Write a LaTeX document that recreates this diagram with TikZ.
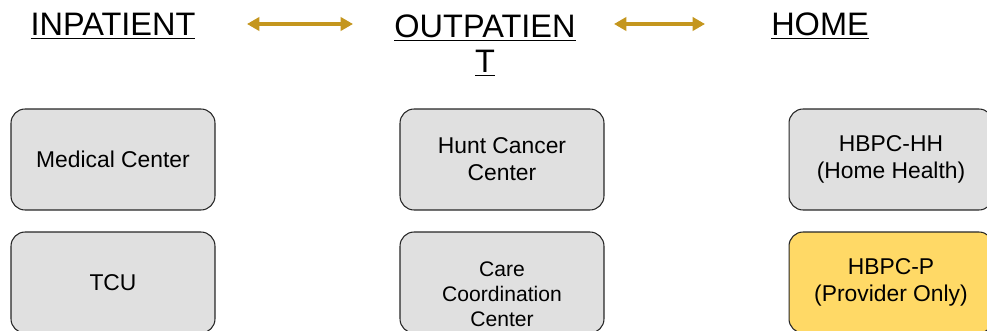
\documentclass[tikz,border=0pt]{standalone}
\usepackage{fontspec}
\setmainfont{Liberation Sans}
\usetikzlibrary{arrows.meta}
\definecolor{boxgray}{RGB}{224,224,224}
\definecolor{boxyellow}{RGB}{255,217,102}
\definecolor{gold}{RGB}{196,150,30}
\begin{document}
\begin{tikzpicture}[x=0.02cm,y=-0.02cm,
    place/.style={draw=black!85,line width=0.6pt,rounded corners=8pt,fill=boxgray,
      minimum width=4.08cm,minimum height=2.02cm,align=center,inner sep=2pt,
      font=\fontsize{13}{15.5}\selectfont},
    head/.style={align=center,font=\fontsize{18.5}{21}\selectfont},
    link/.style={gold,line width=2.2pt,{Triangle[length=7pt,width=7.5pt]}-{Triangle[length=7pt,width=7.5pt]}}]
  \useasboundingbox (0,0) rectangle (987,331);
  % headings
  \node[head,anchor=base] (inpat) at (113,36) {\underline{INPATIENT}};
  \node[head,anchor=base] (outpat) at (485,73) {\underline{OUTPATIEN}\\[-1pt]\underline{T}};
  \node[head,anchor=base] (home) at (820,36) {\underline{HOME}};
  % arrows
  \coordinate (a1) at (247,24);
  \coordinate (b1) at (353,24);
  \coordinate (a2) at (614,24);
  \coordinate (b2) at (705,24);
  \draw[link] (a1) -- (b1);
  \draw[link] (a2) -- (b2);
  % boxes
  \node[place] (med) at (113,159.5) {Medical Center};
  \node[place] (tcu) at (113,282.5) {TCU};
  \node[place] (hunt) at (502,159.5) {Hunt Cancer\\Center};
  \node[place,font=\fontsize{12}{14.2}\selectfont] (care) at (502,282.5) {\rule{0pt}{22pt}Care\\Coordination\\Center};
  \node[place] (hh) at (891,159.5) {HBPC-HH\\(Home Health)};
  \node[place,fill=boxyellow] (hp) at (891,282.5) {HBPC-P\\(Provider Only)};
\end{tikzpicture}
\end{document}
